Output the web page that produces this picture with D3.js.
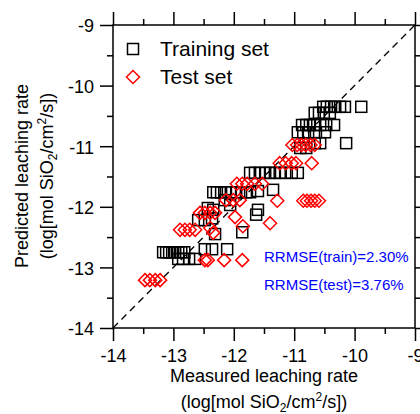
<!DOCTYPE html>
<html>
<head>
<meta charset="utf-8">
<script src="https://cdn.jsdelivr.net/npm/d3@7"></script>
<style>
    body { margin: 0; background: #fff; }
    svg { font-family: "Liberation Sans", Arial, sans-serif; }
</style>
</head>
<body>
<svg id="chart" width="420" height="414"></svg>
<script>
// axis ticks (log units)
var majorTicks = [-14, -13, -12, -11, -10, -9]
var minorTicks = [-13.5, -12.5, -11.5, -10.5, -9.5]

// training set
var trainMeasured = [
    -10.52, -10.46, -10.39, -10.32, -10.24, -10.16, -9.89,
    -10.66, -10.59, -10.51, -10.41,
    -10.87, -10.80, -10.74, -10.67, -10.57, -10.47, -10.34,
    -10.94, -10.85, -10.77, -10.64, -10.49,
    -10.66, -10.57, -10.14,
    -10.90, -10.80,
    -11.73, -11.65, -11.57, -11.48, -11.40, -11.32, -11.24, -11.15, -11.04, -10.94,
    -11.35,
    -12.34, -12.28, -12.21, -12.13, -12.05, -11.96, -11.88, -11.80, -11.73,
    -11.60,
    -12.43, -12.34, -11.60, -11.63, -12.15, -12.06,
    -11.86, -12.31,
    -12.59, -12.48, -12.36,
    -12.48, -12.36, -12.11,
    -13.17, -13.12, -13.07, -13.02, -12.97, -12.92, -12.87, -12.82,
    -12.92, -12.84, -12.74, -12.64
]
var trainPredicted = [
    -10.35, -10.35, -10.35, -10.35, -10.35, -10.35, -10.35,
    -10.45, -10.45, -10.45, -10.45,
    -10.65, -10.65, -10.65, -10.65, -10.65, -10.65, -10.65,
    -10.77, -10.77, -10.77, -10.77, -10.77,
    -10.95, -10.95, -10.95,
    -11.03, -11.03,
    -11.44, -11.44, -11.44, -11.44, -11.44, -11.44, -11.44, -11.44, -11.44, -11.44,
    -11.72,
    -11.76, -11.76, -11.76, -11.76, -11.76, -11.76, -11.76, -11.76, -11.76,
    -11.74,
    -12.02, -12.05, -12.05, -12.13, -11.89, -11.97,
    -12.42, -12.45,
    -12.22, -12.22, -12.19,
    -12.70, -12.70, -12.70,
    -12.75, -12.75, -12.75, -12.75, -12.75, -12.75, -12.75, -12.75,
    -12.86, -12.86, -12.86, -12.86
]

// test set
var testMeasured = [
    -11.03, -10.95, -10.88, -10.81, -10.73, -10.66,
    -11.24, -11.14, -11.04, -10.97, -10.71,
    -11.95, -11.86, -11.78, -11.65, -11.53,
    -10.85, -10.79, -10.72, -10.66, -10.59, -11.28,
    -11.40,
    -12.13, -12.01, -11.90,
    -12.56, -12.48, -12.39, -12.31,
    -11.98, -11.85,
    -12.89, -12.81, -12.73, -12.64,
    -12.39, -12.34,
    -12.48, -12.43, -12.16, -11.86,
    -13.47, -13.39, -13.30, -13.22
]
var testPredicted = [
    -10.98, -10.98, -10.98, -10.98, -10.98, -10.98,
    -11.28, -11.28, -11.28, -11.28, -11.28,
    -11.62, -11.62, -11.62, -11.62, -11.62,
    -11.90, -11.90, -11.90, -11.90, -11.90, -11.90,
    -12.27,
    -11.89, -11.89, -11.89,
    -12.10, -12.10, -12.10, -12.10,
    -12.17, -12.32,
    -12.38, -12.38, -12.38, -12.38,
    -12.35, -12.43,
    -12.88, -12.88, -12.88, -12.88,
    -13.21, -13.21, -13.21, -13.21
]

var legendLabels = ["Training set", "Test set"]
var statLabels = ["RRMSE(train)=2.30%", "RRMSE(test)=3.76%"]

var svg = d3.select("#chart")

var x = d3.scaleLinear().domain([-14, -9]).range([113, 415])
var y = d3.scaleLinear().domain([-14, -9]).range([328, 25])

// plain hyphen, no decimals
var fmt = d => String(d)

var axisStyle = (g) => {
    g.select(".domain").remove()
    g.selectAll("line").attr("stroke", "#000").attr("stroke-width", 1.5)
    g.selectAll("text").attr("font-size", 18).attr("fill", "#000")
}

// bottom
svg.append("g").attr("transform", `translate(0,${y(-14)})`)
    .call(d3.axisBottom(x).tickValues(majorTicks).tickFormat(fmt).tickSize(13).tickPadding(8).tickSizeOuter(0))
    .call(axisStyle)
svg.append("g").attr("transform", `translate(0,${y(-14)})`)
    .call(d3.axisBottom(x).tickValues(minorTicks).tickSize(6).tickFormat(""))
    .call(axisStyle)
// top
svg.append("g").attr("transform", `translate(0,${y(-9)})`)
    .call(d3.axisTop(x).tickValues(majorTicks).tickSize(13).tickFormat(""))
    .call(axisStyle)
svg.append("g").attr("transform", `translate(0,${y(-9)})`)
    .call(d3.axisTop(x).tickValues(minorTicks).tickSize(6).tickFormat(""))
    .call(axisStyle)
// left
svg.append("g").attr("transform", `translate(${x(-14)},0)`)
    .call(d3.axisLeft(y).tickValues(majorTicks).tickFormat(fmt).tickSize(13).tickPadding(6))
    .call(axisStyle)
    .call(g => g.selectAll("text").attr("dy", "0.38em"))
svg.append("g").attr("transform", `translate(${x(-14)},0)`)
    .call(d3.axisLeft(y).tickValues(minorTicks).tickSize(6).tickFormat(""))
    .call(axisStyle)
// right
svg.append("g").attr("transform", `translate(${x(-9)},0)`)
    .call(d3.axisRight(y).tickValues(majorTicks).tickSize(13).tickFormat(""))
    .call(axisStyle)
svg.append("g").attr("transform", `translate(${x(-9)},0)`)
    .call(d3.axisRight(y).tickValues(minorTicks).tickSize(6).tickFormat(""))
    .call(axisStyle)

// frame
svg.append("rect")
    .attr("x", x(-14)).attr("y", y(-9))
    .attr("width", x(-9) - x(-14)).attr("height", y(-14) - y(-9))
    .attr("fill", "none").attr("stroke", "#000").attr("stroke-width", 1.5)

// 1:1 line
svg.append("line")
    .attr("x1", x(-14)).attr("y1", y(-14))
    .attr("x2", x(-9)).attr("y2", y(-9))
    .attr("stroke", "#000").attr("stroke-width", 1.3)
    .attr("stroke-dasharray", "7,5")

var sq = 11
var dm = 6.5
var diamondPath = (cx, cy) => `M${cx},${cy - dm}L${cx + dm},${cy}L${cx},${cy + dm}L${cx - dm},${cy}Z`

var trainData = trainMeasured.map((m, i) => ({m: m, p: trainPredicted[i]}))
var testData = testMeasured.map((m, i) => ({m: m, p: testPredicted[i]}))

svg.append("g").selectAll("rect")
    .data(trainData).enter()
    .append("rect")
    .attr("x", d => x(d.m) - sq / 2)
    .attr("y", d => y(d.p) - sq / 2)
    .attr("width", sq).attr("height", sq)
    .attr("fill", "none").attr("stroke", "#000").attr("stroke-width", 1.5)

svg.append("g").selectAll("path")
    .data(testData).enter()
    .append("path")
    .attr("d", d => diamondPath(x(d.m), y(d.p)))
    .attr("fill", "none").attr("stroke", "#ff0000").attr("stroke-width", 1.5)

// legend
svg.append("rect")
    .attr("x", 133 - sq / 2).attr("y", 49 - sq / 2)
    .attr("width", sq).attr("height", sq)
    .attr("fill", "none").attr("stroke", "#000").attr("stroke-width", 1.5)
svg.append("path")
    .attr("d", diamondPath(133, 77))
    .attr("fill", "none").attr("stroke", "#ff0000").attr("stroke-width", 1.5)
svg.selectAll(".legend_text")
    .data(legendLabels).enter()
    .append("text")
    .attr("class", "legend_text")
    .attr("x", 160).attr("y", (d, i) => 56 + i * 28)
    .attr("font-size", 21)
    .text(d => d)

// stats
svg.selectAll(".stat_text")
    .data(statLabels).enter()
    .append("text")
    .attr("class", "stat_text")
    .attr("x", 264).attr("y", (d, i) => 262 + i * 28)
    .attr("font-size", 15).attr("fill", "#0000ff")
    .text(d => d)

// axis titles
var unitLine = (t) => {
    t.append("tspan").text("(log[mol SiO")
    t.append("tspan").attr("font-size", 12).attr("baseline-shift", "-4").text("2")
    t.append("tspan").text("/cm")
    t.append("tspan").attr("font-size", 12).attr("baseline-shift", "7").text("2")
    t.append("tspan").text("/s])")
}

svg.append("text")
    .attr("x", 264).attr("y", 382)
    .attr("text-anchor", "middle").attr("font-size", 18)
    .text("Measured leaching rate")
svg.append("text")
    .attr("x", 264).attr("y", 408)
    .attr("text-anchor", "middle").attr("font-size", 18)
    .call(unitLine)

svg.append("text")
    .attr("transform", "translate(28,176) rotate(-90)")
    .attr("text-anchor", "middle").attr("font-size", 18)
    .text("Predicted leaching rate")
svg.append("text")
    .attr("transform", "translate(53,176) rotate(-90)")
    .attr("text-anchor", "middle").attr("font-size", 18)
    .call(unitLine)
</script>
</body>
</html>
